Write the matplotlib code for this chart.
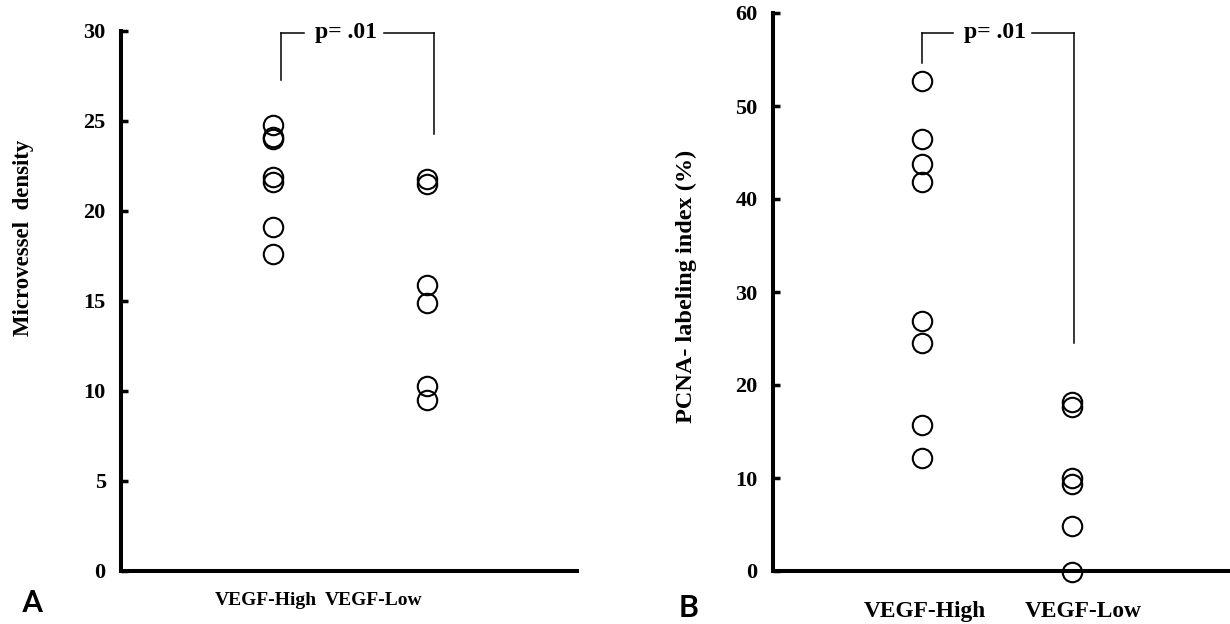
import matplotlib
matplotlib.use("Agg")
import matplotlib.pyplot as plt

# 数据
groups = ["VEGF-High", "VEGF-Low"]
mvd_high = [24.8, 24.1, 24.0, 21.9, 21.6, 19.1, 17.6]
mvd_low = [21.8, 21.5, 15.9, 14.9, 10.3, 9.5]
pcna_high = [52.7, 46.5, 43.8, 41.8, 26.9, 24.5, 15.7, 12.2]
pcna_low = [18.2, 17.6, 10.0, 9.35, 4.8, -0.1]
mvd_ticks = [0, 5, 10, 15, 20, 25, 30]
pcna_ticks = [0, 10, 20, 30, 40, 50, 60]
p_text = "p= .01"

serif = "Liberation Serif"
W, H = 1230, 624
fig = plt.figure(figsize=(W / 100, H / 100), dpi=100)


def setup_axis(ax, ticks, tick_size):
    ax.spines["top"].set_visible(False)
    ax.spines["right"].set_visible(False)
    ax.spines["left"].set_linewidth(2.9)
    ax.spines["bottom"].set_linewidth(2.9)
    ax.set_xticks([])
    ax.set_yticks(ticks)
    ax.set_yticklabels([str(t) for t in ticks], family=serif, fontweight="bold",
                       fontsize=tick_size)
    ax.tick_params(axis="y", direction="in", length=5, width=2.5, pad=11)
    ax.patch.set_visible(False)


def bracket(ax, x1, x2, ytop, y1, y2, gap1, gap2, xt, size):
    kw = dict(color="black", lw=1.1, clip_on=False)
    ax.plot([x1, x1], [y1, ytop], **kw)
    ax.plot([x1, gap1], [ytop, ytop], **kw)
    ax.plot([gap2, x2], [ytop, ytop], **kw)
    ax.plot([x2, x2], [ytop, y2], **kw)
    ax.text(xt, ytop, p_text, ha="center", va="center", family=serif,
            fontweight="bold", fontsize=size)


def dots(ax, xpos, vals):
    ax.plot([xpos] * len(vals), vals, linestyle="none", marker="o", markersize=14,
            markerfacecolor="none", markeredgecolor="black", markeredgewidth=1.5,
            clip_on=False)


# 图A
axA = fig.add_axes([121 / W, 53 / H, 456 / W, 540 / H])
setup_axis(axA, mvd_ticks, 16)
dots(axA, 1, mvd_high)
dots(axA, 2, mvd_low)
axA.set_xlim(0.013, 2.974)
axA.set_ylim(0, 30)
bracket(axA, 1.05, 2.045, 29.9, 27.3, 24.3, 1.2, 1.72, 1.474, 17)

# 图B
axB = fig.add_axes([773 / W, 53 / H, 457 / W, 558 / H])
setup_axis(axB, pcna_ticks, 16)
dots(axB, 1, pcna_high)
dots(axB, 2, pcna_low)
axB.set_xlim(0.007, 3.053)
axB.set_ylim(0, 60)
bracket(axB, 1.0, 2.013, 57.85, 54.6, 24.5, 1.207, 1.733, 1.487, 17)

# 横轴标签
fig.text(266 / W, 1 - 605 / H, groups[0], ha="center", va="baseline", family=serif,
         fontweight="bold", fontsize=14)
fig.text(374 / W, 1 - 605 / H, groups[1], ha="center", va="baseline", family=serif,
         fontweight="bold", fontsize=14)
fig.text(925 / W, 1 - 617 / H, groups[0], ha="center", va="baseline", family=serif,
         fontweight="bold", fontsize=16.8)
fig.text(1083 / W, 1 - 617 / H, groups[1], ha="center", va="baseline", family=serif,
         fontweight="bold", fontsize=16.8)

# 纵轴标签
fig.text(24 / W, 1 - 238 / H, "Microvessel  density", rotation=90, ha="center",
         va="center", family=serif, fontweight="bold", fontsize=16.5)
fig.text(686 / W, 1 - 286 / H, "PCNA- labeling index (%)", rotation=90, ha="center",
         va="center", family=serif, fontweight="bold", fontsize=17.5)

# 面板字母
fig.text(22 / W, 1 - 589 / H, "A", ha="left", va="top", family="Roboto",
         fontweight="medium", fontsize=23)
fig.text(679 / W, 1 - 594 / H, "B", ha="left", va="top", family="Roboto",
         fontweight="medium", fontsize=23)

fig.savefig("out.png", dpi=100)
